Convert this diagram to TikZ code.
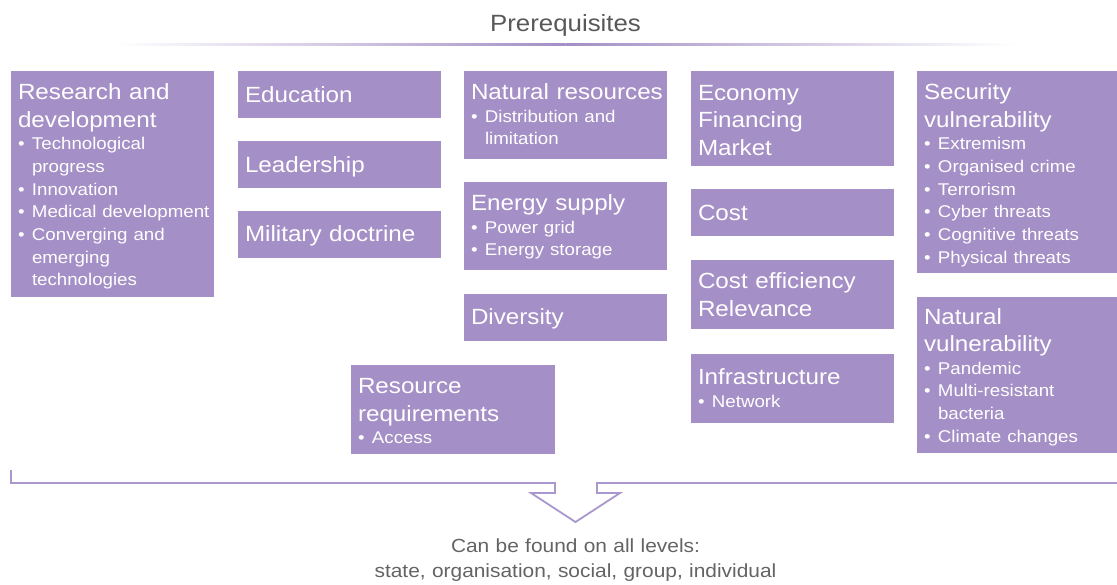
\documentclass[tikz,border=0pt]{standalone}
\usepackage{fontspec}
\setmainfont{Liberation Sans}[FakeStretch=1.1]
\definecolor{boxfill}{RGB}{164,143,198}
\definecolor{titlegray}{RGB}{88,88,88}
\definecolor{botgray}{RGB}{100,100,100}
\definecolor{linepurple}{RGB}{163,143,197}
\definecolor{brkpurple}{RGB}{170,152,205}
\newcommand\Hd{\fontsize{22}{27.5}\selectfont\spaceskip=7.6pt plus 2pt minus 1pt\relax}
\newcommand\Bl{\fontsize{17}{22.7}\selectfont\spaceskip=5.9pt plus 2pt minus 1pt\relax}
\newcommand\itm[1]{\par\hangindent=14pt\hangafter=1\noindent\makebox[14pt][l]{•}#1}
\tikzset{
  pbox/.style={fill=boxfill, draw=none, inner sep=0pt, outer sep=0pt, anchor=north west},
  ptxt/.style={text=white, inner sep=0pt, outer sep=0pt, anchor=north west, text width=204pt, align=left},
  brk/.style={draw=brkpurple, line width=1.8pt, line join=miter},
}
\newcommand\pb[7]{%
  \node[pbox, minimum width=#4pt, minimum height=#5pt] (#1) at (#2,#3) {};
  \node[ptxt] (#1t) at ([shift={(7,#6-17)}]#1.north west) {\Hd\rule{0pt}{17pt}#7\par};
}
\begin{document}
\begin{tikzpicture}[x=1pt,y=-1pt]
\useasboundingbox (0,0) rectangle (1117,584);
\fill[white] (0,0) rectangle (1117,584);

% title
\node[font=\fontsize{23.5}{28}\selectfont, text=titlegray, anchor=base, inner sep=0pt] (title) at (565.5,31) {Prerequisites};
\shade[left color=white, right color=linepurple] (115,43) rectangle (565.5,45);
\shade[left color=linepurple, right color=white] (565.5,43) rectangle (1015,45);

% column 1
\pb{rd}{11}{71}{203}{226}{28.5}{Research and\newline development\par\Bl
  \itm{Technological\newline progress}\itm{Innovation}\itm{Medical development}\itm{Converging and\newline emerging\newline technologies}}

% column 2
\pb{edu}{238}{71}{203}{47}{31.5}{Education}
\pb{lead}{238}{141}{203}{47}{31}{Leadership}
\pb{mil}{238}{211}{203}{47}{30}{Military doctrine}

% column 3
\pb{natres}{464}{71}{203}{88}{28.5}{Natural resources\par\Bl\itm{Distribution and\newline limitation}}
\pb{energy}{464}{182}{203}{88}{28.5}{Energy supply\par\Bl\itm{Power grid}\itm{Energy storage}}
\pb{div}{464}{294}{203}{47}{30.5}{Diversity}
\pb{resreq}{351}{365}{204}{89}{28.5}{Resource\newline requirements\par\Bl\itm{Access}}

% column 4
\pb{econ}{691}{71}{203}{95}{29}{Economy\newline Financing\newline Market}
\pb{cost}{691}{189}{203}{47}{31.5}{Cost}
\pb{costeff}{691}{260}{203}{69}{28.5}{Cost efficiency\newline Relevance}
\pb{infra}{691}{354}{203}{69}{30.5}{Infrastructure\par\Bl\itm{Network}}

% column 5
\pb{secv}{917}{71}{200}{202}{28.5}{Security\newline vulnerability\par\Bl
  \itm{Extremism}\itm{Organised crime}\itm{Terrorism}\itm{Cyber threats}\itm{Cognitive threats}\itm{Physical threats}}
\pb{natv}{917}{297}{200}{156}{27}{Natural\newline vulnerability\par\Bl
  \itm{Pandemic}\itm{Multi-resistant\newline bacteria}\itm{Climate changes}}

% bracket with open arrow
\coordinate (bl) at (11,470);
\coordinate (blc) at (11,483);
\coordinate (sl) at (555,483);
\coordinate (slb) at (555,493);
\coordinate (wl) at (531,493);
\coordinate (tip) at (575.5,522);
\coordinate (wr) at (620,493);
\coordinate (srb) at (597,493);
\coordinate (sr) at (597,483);
\coordinate (br) at (1120,483);
\draw[brk] (bl) -- (blc) -- (sl) -- (slb) -- (wl) -- (tip) -- (wr) -- (srb) -- (sr) -- (br);

% bottom text
\node[text=botgray, anchor=north, inner sep=0pt, text width=600pt, align=center,
      font=\fontsize{19}{25.5}\selectfont] (levels) at (575.5,537.5)
  {\rule{0pt}{14.5pt}Can be found on all levels:\par state, organisation, social, group, individual\par};
\end{tikzpicture}
\end{document}
